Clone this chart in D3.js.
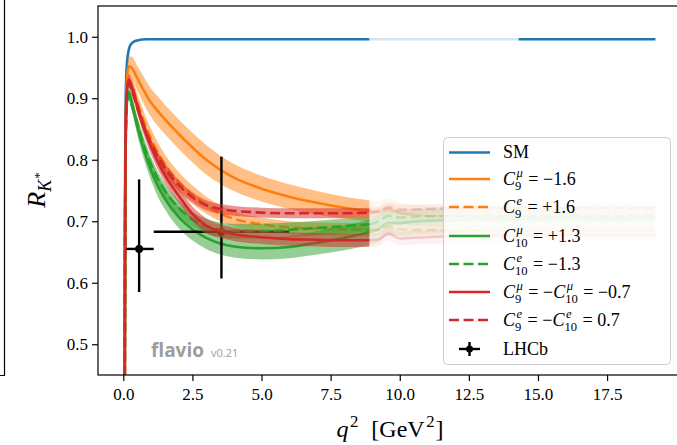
<!DOCTYPE html>
<html>
<head>
<meta charset="utf-8">
<script src="https://cdn.jsdelivr.net/npm/d3@7"></script>
<style>
  body { margin: 0; background: #fff; }
  svg { display: block; }
  text { font-family: "Liberation Serif", "DejaVu Serif", serif; fill: #000; }
</style>
</head>
<body>
<div id="chart"></div>
<script>
// ---- data ----
// q^2 grid for the fitted (solid colour) part of the curves
const qLow = [0.045, 0.055, 0.07, 0.1, 0.15, 0.2, 0.3, 0.5, 0.75, 1.0, 1.25, 1.5, 2.0, 2.5, 3.0, 3.5, 4.0, 5.0, 6.0, 7.0, 8.0, 8.9];
// q^2 grid for the faded part (above 8.9 GeV^2)
const qHigh = [8.9, 9.2, 9.6, 10.0, 10.4, 11.0, 12.0, 14.0, 16.0, 19.25];

const smQ = [0.045, 0.05, 0.06, 0.08, 0.1, 0.13, 0.17, 0.24, 0.35, 0.5, 0.85, 2.0, 5.0, 8.9];
const smR = [0.0, 0.5, 0.72, 0.87, 0.925, 0.955, 0.972, 0.985, 0.991, 0.994, 0.996, 0.996, 0.996, 0.996];
const smFadeQ = [8.9, 14.3];
const smFadeR = [0.996, 0.996];
const smHighQ = [14.3, 19.25];
const smHighR = [0.996, 0.996];

const c9muR   = [0, 0.46, 0.74, 0.89, 0.94, 0.952, 0.950, 0.933, 0.912, 0.893, 0.879, 0.866, 0.842, 0.820, 0.800, 0.784, 0.771, 0.753, 0.740, 0.730, 0.722, 0.717];
const c9muErr = [0, 0.005, 0.008, 0.012, 0.015, 0.016, 0.018, 0.020, 0.022, 0.023, 0.024, 0.024, 0.024, 0.024, 0.024, 0.023, 0.022, 0.021, 0.020, 0.019, 0.018, 0.017];
const c9muHi  = [0.717, 0.716, 0.720, 0.714, 0.711, 0.709, 0.708, 0.707, 0.707, 0.707];

const c9eR    = [0, 0.45, 0.72, 0.87, 0.915, 0.928, 0.922, 0.895, 0.862, 0.835, 0.812, 0.793, 0.764, 0.743, 0.726, 0.713, 0.704, 0.695, 0.690, 0.688, 0.687, 0.686];
const c9eErr  = [0, 0.003, 0.006, 0.008, 0.010, 0.011, 0.012, 0.014, 0.015, 0.016, 0.016, 0.016, 0.016, 0.015, 0.014, 0.013, 0.012, 0.011, 0.010, 0.010, 0.010, 0.010];
const c9eHi   = [0.686, 0.686, 0.692, 0.687, 0.686, 0.686, 0.685, 0.685, 0.685, 0.685];

const c10muR   = [0, 0.45, 0.72, 0.86, 0.902, 0.910, 0.895, 0.855, 0.815, 0.783, 0.757, 0.737, 0.707, 0.687, 0.673, 0.664, 0.659, 0.656, 0.658, 0.665, 0.673, 0.682];
const c10muErr = [0, 0.003, 0.006, 0.009, 0.011, 0.012, 0.013, 0.014, 0.015, 0.016, 0.017, 0.017, 0.018, 0.018, 0.018, 0.018, 0.018, 0.018, 0.018, 0.019, 0.020, 0.021];
const c10muHi  = [0.682, 0.686, 0.697, 0.697, 0.699, 0.701, 0.702, 0.703, 0.703, 0.703];

const c10eR   = [0, 0.45, 0.72, 0.86, 0.900, 0.905, 0.890, 0.860, 0.823, 0.793, 0.769, 0.750, 0.722, 0.703, 0.692, 0.686, 0.684, 0.684, 0.686, 0.689, 0.692, 0.695];
const c10eErr = [0, 0.003, 0.005, 0.007, 0.008, 0.009, 0.010, 0.011, 0.012, 0.012, 0.012, 0.012, 0.012, 0.012, 0.012, 0.012, 0.012, 0.012, 0.012, 0.012, 0.012, 0.012];
const c10eHi  = [0.695, 0.699, 0.709, 0.706, 0.707, 0.708, 0.709, 0.709, 0.709, 0.709];

const c9c10muR   = [0, 0.46, 0.74, 0.88, 0.922, 0.930, 0.920, 0.888, 0.851, 0.821, 0.796, 0.775, 0.742, 0.712, 0.693, 0.684, 0.679, 0.674, 0.671, 0.670, 0.669, 0.669];
const c9c10muErr = [0, 0.003, 0.005, 0.007, 0.008, 0.009, 0.010, 0.011, 0.012, 0.012, 0.012, 0.012, 0.012, 0.012, 0.012, 0.011, 0.011, 0.011, 0.011, 0.011, 0.011, 0.011];
const c9c10muHi  = [0.669, 0.670, 0.680, 0.672, 0.673, 0.674, 0.676, 0.677, 0.678, 0.678];

const c9c10eR   = [0, 0.46, 0.73, 0.875, 0.918, 0.925, 0.915, 0.885, 0.852, 0.826, 0.805, 0.787, 0.759, 0.739, 0.726, 0.720, 0.717, 0.714, 0.713, 0.713, 0.713, 0.714];
const c9c10eErr = [0, 0.002, 0.004, 0.006, 0.007, 0.008, 0.008, 0.008, 0.008, 0.008, 0.008, 0.008, 0.008, 0.008, 0.008, 0.008, 0.008, 0.008, 0.008, 0.008, 0.008, 0.008];
const c9c10eHi  = [0.714, 0.715, 0.723, 0.719, 0.719, 0.720, 0.721, 0.722, 0.722, 0.722];

// LHCb measurement
const lhcbQ   = [0.5725, 3.55];
const lhcbQlo = [0.045, 1.1];
const lhcbQhi = [1.1, 6.0];
const lhcbR   = [0.655, 0.683];
const lhcbRlo = [0.585, 0.607];
const lhcbRhi = [0.768, 0.805];

const xTicks = [0, 2.5, 5, 7.5, 10, 12.5, 15, 17.5];
const yTicks = [0.5, 0.6, 0.7, 0.8, 0.9, 1.0];

// ---- setup ----
const width = 677, height = 445;
const svg = d3.select('#chart').append('svg')
    .attr('width', width)
    .attr('height', height);

const x = d3.scaleLinear([-0.915, 20.21], [98, 682]);
const y = d3.scaleLinear([0.45, 1.05], [375, 6]);

// piece of the neighbouring panel on the left
svg.append('path')
    .attr('d', 'M4.5,0V375.5H0')
    .attr('fill', 'none').attr('stroke', '#000').attr('stroke-width', 1.2);

svg.append('clipPath').attr('id', 'plotclip')
  .append('rect').attr('x', 98).attr('y', 6).attr('width', 584).attr('height', 369);
const plot = svg.append('g').attr('clip-path', 'url(#plotclip)');

const line = d3.line().x(d => x(d[0])).y(d => y(d[1])).curve(d3.curveMonotoneX);
const band = d3.area()
    .x(d => x(d[0]))
    .y0(d => y(d[1] - d[2]))
    .y1(d => y(d[1] + d[2]))
    .curve(d3.curveMonotoneX);

const blue = '#1f77b4', orange = '#ff7f0e', green = '#2ca02c', red = '#d62728';
const dash = '10,4.5';

const series = [
  { color: orange, dashed: false, r: c9muR, err: c9muErr, hi: c9muHi, label: [{t: 'C', it: true}, {sup: 'μ', sub: '9'}, {t: ' = −1.6'}] },
  { color: orange, dashed: true,  r: c9eR, err: c9eErr, hi: c9eHi, label: [{t: 'C', it: true}, {sup: 'e', sub: '9'}, {t: ' = +1.6'}] },
  { color: green,  dashed: false, r: c10muR, err: c10muErr, hi: c10muHi, label: [{t: 'C', it: true}, {sup: 'μ', sub: '10'}, {t: ' = +1.3'}] },
  { color: green,  dashed: true,  r: c10eR, err: c10eErr, hi: c10eHi, label: [{t: 'C', it: true}, {sup: 'e', sub: '10'}, {t: ' = −1.3'}] },
  { color: red,    dashed: false, r: c9c10muR, err: c9c10muErr, hi: c9c10muHi, label: [{t: 'C', it: true}, {sup: 'μ', sub: '9'}, {t: ' = −'}, {t: 'C', it: true}, {sup: 'μ', sub: '10'}, {t: ' = −0.7'}] },
  { color: red,    dashed: true,  r: c9c10eR, err: c9c10eErr, hi: c9c10eHi, label: [{t: 'C', it: true}, {sup: 'e', sub: '9'}, {t: ' = −'}, {t: 'C', it: true}, {sup: 'e', sub: '10'}, {t: ' = 0.7'}] }
];

// ---- SM ----
plot.append('path').attr('d', line(smQ.map((q, i) => [q, smR[i]])))
    .attr('fill', 'none').attr('stroke', blue).attr('stroke-width', 2.6);
plot.append('path').attr('d', line(smFadeQ.map((q, i) => [q, smFadeR[i]])))
    .attr('fill', 'none').attr('stroke', blue).attr('stroke-opacity', 0.2).attr('stroke-width', 2.6);
plot.append('path').attr('d', line(smHighQ.map((q, i) => [q, smHighR[i]])))
    .attr('fill', 'none').attr('stroke', blue).attr('stroke-width', 2.6);

function drawSeries(s) {
  const low = qLow.map((q, i) => [q, s.r[i], s.err[i]]);
  const lastErr = s.err[s.err.length - 1];
  const high = qHigh.map((q, i) => [q, s.hi[i], lastErr]);
  plot.append('path').attr('d', band(low)).attr('fill', s.color).attr('fill-opacity', 0.5);
  plot.append('path').attr('d', line(low))
      .attr('fill', 'none').attr('stroke', s.color).attr('stroke-width', 2.6)
      .attr('stroke-dasharray', s.dashed ? dash : null);
  plot.append('path').attr('d', band(high)).attr('fill', s.color).attr('fill-opacity', 0.07);
  plot.append('path').attr('d', line(high))
      .attr('fill', 'none').attr('stroke', s.color).attr('stroke-opacity', 0.2).attr('stroke-width', 2.6)
      .attr('stroke-dasharray', s.dashed ? dash : null);
}

function drawLHCb() {
  const g = plot.append('g');
  lhcbQ.forEach((q, i) => {
    g.append('line').attr('x1', x(lhcbQlo[i])).attr('x2', x(lhcbQhi[i]))
        .attr('y1', y(lhcbR[i])).attr('y2', y(lhcbR[i]))
        .attr('stroke', '#000').attr('stroke-width', 2.4);
    g.append('line').attr('x1', x(q)).attr('x2', x(q))
        .attr('y1', y(lhcbRlo[i])).attr('y2', y(lhcbRhi[i]))
        .attr('stroke', '#000').attr('stroke-width', 2.4);
    g.append('circle').attr('cx', x(q)).attr('cy', y(lhcbR[i])).attr('r', 4).attr('fill', '#000');
  });
}

series.forEach((s, i) => {
  drawSeries(s);
  if (i === 2) drawLHCb();
});

// ---- axes ----
const axX = svg.append('g').attr('transform', 'translate(0,375)')
    .call(d3.axisBottom(x).tickValues(xTicks).tickFormat(d3.format('.1f')).tickSize(6).tickPadding(7));
const axY = svg.append('g').attr('transform', 'translate(98,0)')
    .call(d3.axisLeft(y).tickValues(yTicks).tickFormat(d3.format('.1f')).tickSize(6).tickPadding(4));
[axX, axY].forEach(a => {
  a.select('.domain').remove();
  a.selectAll('line').attr('stroke', '#000').attr('stroke-width', 1.2);
  a.selectAll('text').style('font-size', '17px').style('font-family', '"Liberation Serif", serif').style('fill', '#000');
});

svg.append('rect').attr('x', 98).attr('y', 6).attr('width', 584).attr('height', 369)
    .attr('fill', 'none').attr('stroke', '#000').attr('stroke-width', 1.2);

// ---- text helpers ----
function mathText(g, x0, y0, parts, size) {
  let cx = x0;
  parts.forEach(p => {
    if (p.t !== undefined) {
      const el = g.append('text').attr('x', cx).attr('y', y0)
          .style('font-size', size + 'px').style('font-style', p.it ? 'italic' : 'normal')
          .attr('xml:space', 'preserve').text(p.t);
      cx += el.node().getComputedTextLength();
    } else {
      const small = size * 0.7;
      let w = 0;
      if (p.sup) {
        const s = g.append('text').attr('x', cx + 1.5).attr('y', y0 - size * 0.4)
            .style('font-size', small + 'px').style('font-style', 'italic').text(p.sup);
        w = Math.max(w, s.node().getComputedTextLength() + 1.5);
      }
      if (p.sub) {
        const s = g.append('text').attr('x', cx).attr('y', y0 + size * 0.3)
            .style('font-size', small + 'px').text(p.sub);
        w = Math.max(w, s.node().getComputedTextLength());
      }
      cx += w + 1;
    }
  });
  return cx - x0;
}

// x label
const xl = svg.append('g');
const xw = mathText(xl, 0, 437, [{t: 'q', it: true}, {sup: '2'}, {t: '  [GeV'}, {sup: '2'}, {t: ']'}], 24);
xl.attr('transform', `translate(${390 - xw / 2},0)`);
xl.selectAll('text').filter(function () { return this.textContent === '2'; }).style('font-style', 'normal');

// y label (rotated)
const yl = svg.append('g').attr('transform', 'translate(45,190) rotate(-90)');
const yr = yl.append('g');
let yw = 0;
const rT = yr.append('text').attr('x', 0).attr('y', 0).style('font-size', '26px').style('font-style', 'italic').text('R');
yw = rT.node().getComputedTextLength();
const kT = yr.append('text').attr('x', yw).attr('y', 6).style('font-size', '18px').style('font-style', 'italic').text('K');
yw += kT.node().getComputedTextLength();
const sT = yr.append('text').attr('x', yw + 1).attr('y', -2).style('font-size', '13px').text('*');
yw += sT.node().getComputedTextLength() + 1;
yr.attr('transform', `translate(${-yw / 2},0)`);

// watermark
svg.append('text').attr('x', 151).attr('y', 357)
    .style('font-family', '"Open Sans", "DejaVu Sans", sans-serif').style('font-weight', 'bold')
    .style('font-size', '19px').style('fill', '#9d9d9d').text('flavio');
svg.append('text').attr('x', 211).attr('y', 357)
    .style('font-family', '"Open Sans", "DejaVu Sans", sans-serif')
    .style('font-size', '11px').style('fill', '#9d9d9d').text('v0.21');

// ---- legend ----
const legend = svg.append('g');
legend.append('rect').attr('x', 443.5).attr('y', 137.5).attr('width', 227).attr('height', 227).attr('rx', 4)
    .attr('fill', 'rgba(255,255,255,0.8)').attr('stroke', '#cccccc').attr('stroke-width', 1);

const rowY = [152.5, 179, 207, 236, 264, 292, 320, 349];
const lx0 = 449, lx1 = 490, tx = 503;

legend.append('line').attr('x1', lx0).attr('x2', lx1).attr('y1', rowY[0]).attr('y2', rowY[0])
    .attr('stroke', blue).attr('stroke-width', 2.6);
legend.append('text').attr('x', tx).attr('y', rowY[0] + 5.5).style('font-size', '18px').text('SM');

series.forEach((s, i) => {
  const yy = rowY[i + 1];
  legend.append('line').attr('x1', lx0).attr('x2', lx1).attr('y1', yy).attr('y2', yy)
      .attr('stroke', s.color).attr('stroke-width', 2.6)
      .attr('stroke-dasharray', s.dashed ? dash : null);
  mathText(legend, tx, yy + 5.5, s.label, 18);
});

const ly = rowY[7];
legend.append('line').attr('x1', 459).attr('x2', 480).attr('y1', ly).attr('y2', ly).attr('stroke', '#000').attr('stroke-width', 2.4);
legend.append('line').attr('x1', 469.5).attr('x2', 469.5).attr('y1', ly - 7).attr('y2', ly + 7).attr('stroke', '#000').attr('stroke-width', 2.4);
legend.append('circle').attr('cx', 469.5).attr('cy', ly).attr('r', 3.5).attr('fill', '#000');
legend.append('text').attr('x', tx).attr('y', ly + 5.5).style('font-size', '18px').text('LHCb');
</script>
</body>
</html>
